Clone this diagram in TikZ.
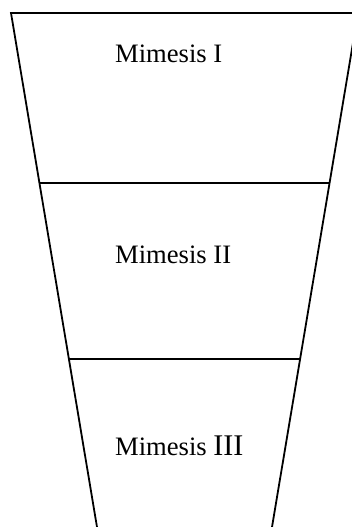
\documentclass[tikz,border=0pt]{standalone}
\usepackage{fontspec}
\setmainfont{Liberation Serif}
\usetikzlibrary{calc}

\begin{document}
\begin{tikzpicture}[
    x=1pt, y=-1pt,
    funnel/.style={line width=1.8pt, color=black, line join=miter},
    stage/.style={anchor=base west, inner sep=0pt, font=\fontsize{26.6}{32}\selectfont}
]
\useasboundingbox (0,0) rectangle (352,527);
\clip (0,0) rectangle (352,527);

% --- Funnel corners ---
\coordinate (tl) at (11,13);
\coordinate (tr) at (358,13);
\coordinate (bl) at (97,527);
\coordinate (br) at (272,527);

% --- Funnel outline ---
\draw[funnel] ($(tl)!1.05!(bl)$) -- (tl) -- (tr) -- ($(tr)!1.05!(br)$);

% --- Dividers ---
\coordinate (d1l) at ($(tl)!0.3307!(bl)$);
\coordinate (d1r) at ($(tr)!0.3307!(br)$);
\coordinate (d2l) at ($(tl)!0.6732!(bl)$);
\coordinate (d2r) at ($(tr)!0.6732!(br)$);
\draw[funnel] (d1l) -- (d1r);
\draw[funnel] (d2l) -- (d2r);

% --- Stage labels ---
\node[stage] (m1) at (115,63) {Mimesis I};
\node[stage] (m2) at (115,263) {Mimesis II};
\node[stage] (m3) at (115,455) {Mimesis {\fontsize{30}{36}\selectfont III}};

\end{tikzpicture}
\end{document}
